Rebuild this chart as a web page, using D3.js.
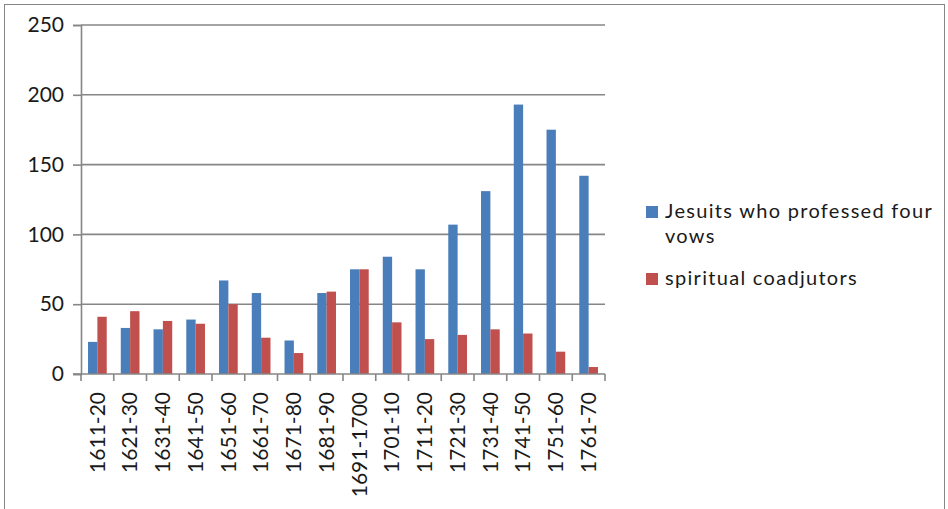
<!DOCTYPE html>
<html>
<head>
<meta charset="utf-8">
<script src="https://cdn.jsdelivr.net/npm/d3@7"></script>
<style>
  html, body { margin: 0; padding: 0; background: #fff; }
  svg { display: block; font-family: Lato, "Open Sans", sans-serif; }
</style>
</head>
<body>
<svg id="chart" width="948" height="509"></svg>
<script>
// Ordinations per decade
const periods = ["1611-20","1621-30","1631-40","1641-50","1651-60","1661-70","1671-80","1681-90",
                 "1691-1700","1701-10","1711-20","1721-30","1731-40","1741-50","1751-60","1761-70"];
const professedFourVows = [23,33,32,39,67,58,24,58,75,84,75,107,131,193,175,142];
const spiritualCoadjutors = [41,45,38,36,50,26,15,59,75,37,25,28,32,29,16,5];
const seriesNames = ["Jesuits who professed four vows", "spiritual coadjutors"];
const seriesColors = ["#4A7EBB", "#C0504D"];
const yTicks = [0, 50, 100, 150, 200, 250];

const svg = d3.select("#chart");
const plot = { left: 81, right: 605, top: 25, bottom: 374 };
const gridColor = "#868686";
const textColor = "#1a1a1a";

// Outer frame
svg.append("rect")
  .attr("x", 4.5).attr("y", 4.5).attr("width", 940).attr("height", 520)
  .attr("fill", "none").attr("stroke", gridColor).attr("stroke-width", 1);

const gap = 1.5 / 3.5;
const x = d3.scaleBand().domain(periods).range([plot.left, plot.right])
  .paddingInner(gap).paddingOuter(gap / 2);
const xs = d3.scaleBand().domain(seriesNames).range([0, x.bandwidth()]);
const y = d3.scaleLinear().domain([0, 250]).range([plot.bottom, plot.top]);

// Horizontal gridlines
svg.append("g").selectAll("line").data(yTicks.filter(d => d > 0)).join("line")
  .attr("x1", plot.left).attr("x2", plot.right)
  .attr("y1", d => y(d)).attr("y2", d => y(d))
  .attr("stroke", gridColor).attr("stroke-width", 1.6);

// Bars
const rows = periods.map((p, i) => ({ period: p, values: [professedFourVows[i], spiritualCoadjutors[i]] }));
const groups = svg.append("g").selectAll("g").data(rows).join("g")
  .attr("transform", d => `translate(${x(d.period)},0)`);
groups.selectAll("rect").data(d => d.values.map((v, k) => ({ v, k }))).join("rect")
  .attr("x", d => xs(seriesNames[d.k]))
  .attr("width", xs.bandwidth())
  .attr("y", d => y(d.v))
  .attr("height", d => y(0) - y(d.v))
  .attr("fill", d => seriesColors[d.k]);

// Y axis
const yAxis = svg.append("g").attr("transform", `translate(${plot.left},0)`)
  .call(d3.axisLeft(y).tickValues(yTicks).tickSize(8).tickPadding(9));
yAxis.select(".domain").attr("stroke", gridColor).attr("stroke-width", 1.6);
yAxis.selectAll(".tick line").attr("stroke", gridColor).attr("stroke-width", 1.6);
yAxis.selectAll(".tick text").attr("font-size", 21).attr("fill", textColor)
  .attr("font-family", "Lato, sans-serif");

// X axis line and category-boundary ticks
const step = x.step();
const boundaries = d3.range(periods.length + 1).map(i => x(periods[0]) - step * gap / 2 + i * step);
svg.append("line")
  .attr("x1", plot.left - 8).attr("x2", plot.right)
  .attr("y1", y(0)).attr("y2", y(0))
  .attr("stroke", gridColor).attr("stroke-width", 1.6);
svg.append("g").selectAll("line").data(boundaries).join("line")
  .attr("x1", d => d).attr("x2", d => d)
  .attr("y1", y(0)).attr("y2", y(0) + 7)
  .attr("stroke", gridColor).attr("stroke-width", 1.6);

// Rotated category labels
svg.append("g").selectAll("text").data(periods).join("text")
  .attr("transform", d => `translate(${x(d) + x.bandwidth() / 2},392) rotate(-90)`)
  .attr("text-anchor", "end")
  .attr("dy", "0.35em")
  .attr("font-size", 21)
  .attr("fill", textColor)
  .text(d => d);

// Legend (first entry wraps onto two lines)
const legend = svg.append("g");
const legendItems = [
  { lines: ["Jesuits who professed four", "vows"], color: seriesColors[0], y: 206 },
  { lines: ["spiritual coadjutors"], color: seriesColors[1], y: 273 }
];
legendItems.forEach(item => {
  legend.append("rect").attr("x", 646).attr("y", item.y).attr("width", 12).attr("height", 12)
    .attr("fill", item.color);
  const t = legend.append("text").attr("x", 665).attr("y", item.y + 12)
    .attr("font-size", 20).attr("letter-spacing", 1.3).attr("fill", textColor);
  item.lines.forEach((line, j) => {
    t.append("tspan").attr("x", 665).attr("dy", j === 0 ? 0 : 24.5).text(line);
  });
});
</script>
</body>
</html>
